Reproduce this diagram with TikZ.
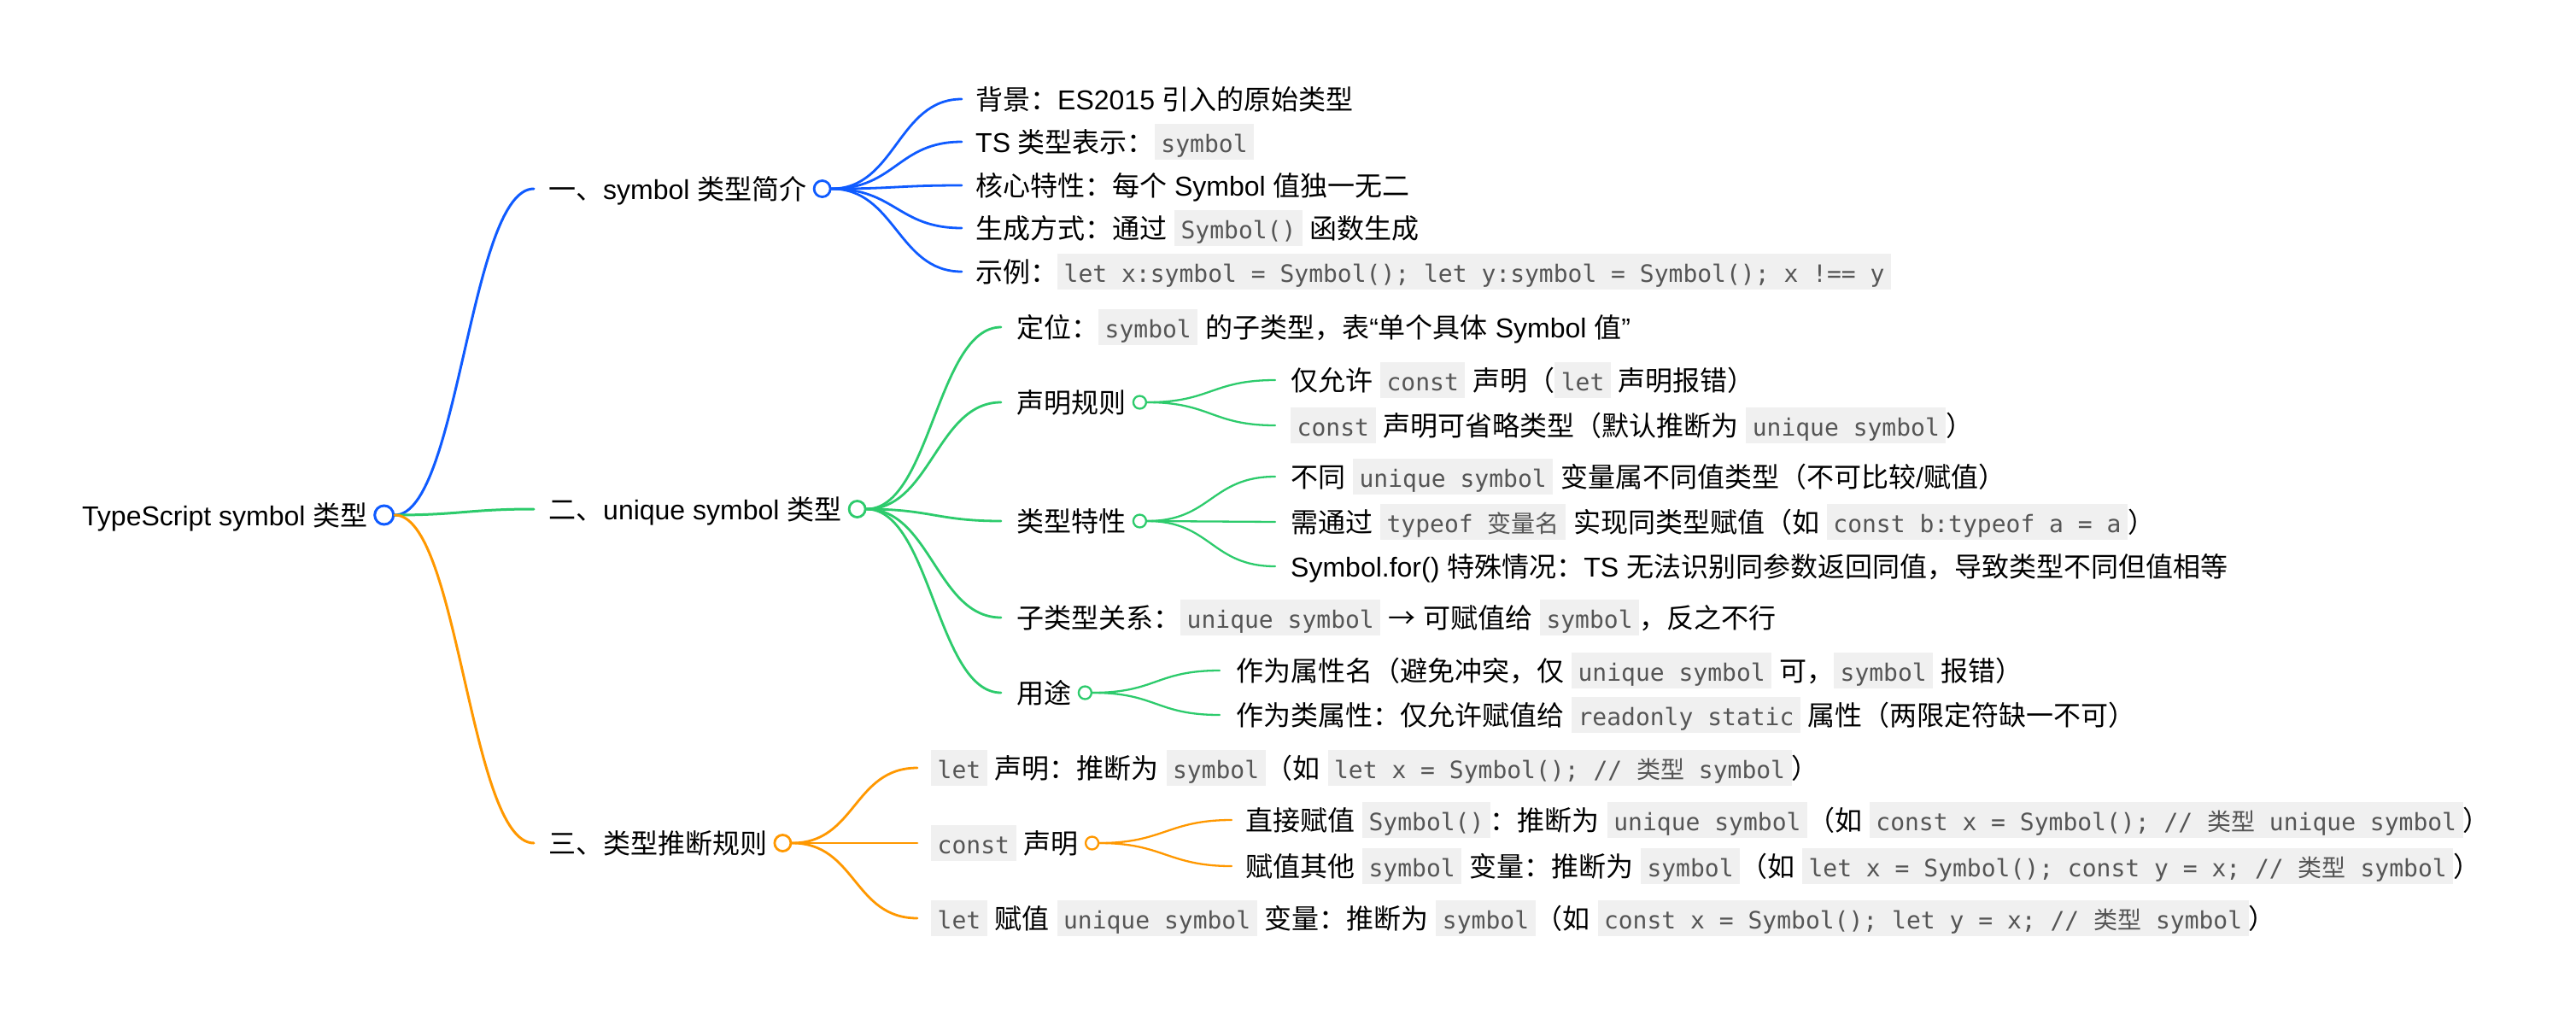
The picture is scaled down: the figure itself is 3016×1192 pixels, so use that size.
\documentclass[tikz,border=0pt]{standalone}
\usepackage{fontspec}
\setmainfont{Liberation Sans}
\setmonofont{DejaVu Sans Mono}
\newfontfamily\cjkfont{Noto Sans CJK SC}
\definecolor{cblue}{HTML}{0F5BFF}
\definecolor{cgreen}{HTML}{2DCB6C}
\definecolor{corange}{HTML}{FF9800}
\definecolor{codebg}{HTML}{F0F0F0}
\definecolor{codefg}{HTML}{555555}
% automatic CJK font switching
\chardef\cjkcls=17
\newcount\ccnt
\ccnt="3000
\loop\XeTeXcharclass\ccnt=\cjkcls\relax \advance\ccnt by 1 \ifnum\ccnt<"3040 \repeat
\ccnt="4E00
\loop\XeTeXcharclass\ccnt=\cjkcls\relax \advance\ccnt by 1 \ifnum\ccnt<"A000 \repeat
\ccnt="FF00
\loop\XeTeXcharclass\ccnt=\cjkcls\relax \advance\ccnt by 1 \ifnum\ccnt<"FFF0 \repeat
\XeTeXcharclass"2192=\cjkcls\relax
\def\curlat{\rmfamily}
\XeTeXinterchartoks 0 \cjkcls = {\cjkfont}
\XeTeXinterchartoks 4095 \cjkcls = {\cjkfont}
\XeTeXinterchartoks \cjkcls 0 = {\curlat}
\XeTeXinterchartoks \cjkcls 4095 = {\curlat}
\XeTeXinterchartokenstate=1
\newcommand\mfs{\fontsize{32}{38}\selectfont\rmfamily}
\newcommand\strutm{\rule[-9pt]{0pt}{42pt}}
\newcommand\cd[1]{{\setlength\fboxsep{0pt}\colorbox{codebg}{\strutm\hspace{7.5pt}{\def\curlat{\ttfamily}\fontsize{28}{34}\selectfont\ttfamily\color{codefg}#1}\hspace{7.5pt}}}}
\tikzset{
  txt/.style={anchor=west, inner sep=0pt, font=\mfs, execute at begin node=\strutm},
  circ/.style={circle, draw, fill=white, inner sep=0pt},
  lnk/.style={line cap=round, out=0, in=180, out distance=75pt, in distance=75pt},
  c0/.style={circ, minimum size=22pt, line width=3pt},
  c1/.style={circ, minimum size=19pt, line width=2.8pt},
  c2/.style={circ, minimum size=15pt, line width=2.3pt},
}
\begin{document}
\begin{tikzpicture}[x=1pt,y=-1pt]
\fill[white] (0,0) rectangle (3016,1192);
\useasboundingbox (0,0) rectangle (3016,1192);
% root
\node[txt] (r) at (96,603) {TypeScript symbol 类型};
\node[c0, draw=cblue] (rc) at ([xshift=19pt]r.east) {};
% level 1
\node[txt] (a) at (642,221) {一、symbol 类型简介};
\node[c1, draw=cblue] (ac) at ([xshift=18pt]a.east) {};
\node[txt] (b) at (642,596) {二、unique symbol 类型};
\node[c1, draw=cgreen] (bc) at ([xshift=18pt]b.east) {};
\node[txt] (c) at (642,987) {三、类型推断规则};
\node[c1, draw=corange] (cc) at ([xshift=18pt]c.east) {};
% blue children
\node[txt] (a1) at (1142,116) {背景：ES2015 引入的原始类型};
\node[txt] (a2) at (1142,166) {TS 类型表示：\cd{symbol}};
\node[txt] (a3) at (1142,217) {核心特性：每个 Symbol 值独一无二};
\node[txt] (a4) at (1142,267) {生成方式：通过 \cd{Symbol()} 函数生成};
\node[txt] (a5) at (1142,318) {示例：\cd{let x:symbol = Symbol(); let y:symbol = Symbol(); x !== y}};
% green children
\node[txt] (b1) at (1190,383) {定位：\cd{symbol} 的子类型，表“单个具体 Symbol 值”};
\node[txt] (b2) at (1190,471) {声明规则};
\node[c2, draw=cgreen] (b2c) at ([xshift=16pt]b2.east) {};
\node[txt] (b21) at (1511,445) {仅允许 \cd{const} 声明（\cd{let} 声明报错）};
\node[txt] (b22) at (1511,498) {\cd{const} 声明可省略类型（默认推断为 \cd{unique symbol}）};
\node[txt] (b3) at (1190,610) {类型特性};
\node[c2, draw=cgreen] (b3c) at ([xshift=16pt]b3.east) {};
\node[txt] (b31) at (1511,558) {不同 \cd{unique symbol} 变量属不同值类型（不可比较/赋值）};
\node[txt] (b32) at (1511,611) {需通过 \cd{typeof 变量名} 实现同类型赋值（如 \cd{const b:typeof a = a}）};
\node[txt] (b33) at (1511,663) {Symbol.for() 特殊情况：TS 无法识别同参数返回同值，导致类型不同但值相等};
\node[txt] (b4) at (1190,723) {子类型关系：\cd{unique symbol} → 可赋值给 \cd{symbol}，反之不行};
\node[txt] (b5) at (1190,811) {用途};
\node[c2, draw=cgreen] (b5c) at ([xshift=16pt]b5.east) {};
\node[txt] (b51) at (1447,785) {作为属性名（避免冲突，仅 \cd{unique symbol} 可，\cd{symbol} 报错）};
\node[txt] (b52) at (1447,837) {作为类属性：仅允许赋值给 \cd{readonly static} 属性（两限定符缺一不可）};
% orange children
\node[txt] (c1) at (1090,899) {\cd{let} 声明：推断为 \cd{symbol}（如 \cd{let x = Symbol(); // 类型 symbol}）};
\node[txt] (c2) at (1090,987) {\cd{const} 声明};
\node[c2, draw=corange] (c2c) at ([xshift=16pt]c2.east) {};
\node[txt] (c21) at (1458,960) {直接赋值 \cd{Symbol()}：推断为 \cd{unique symbol}（如 \cd{const x = Symbol(); // 类型 unique symbol}）};
\node[txt] (c22) at (1458,1014) {赋值其他 \cd{symbol} 变量：推断为 \cd{symbol}（如 \cd{let x = Symbol(); const y = x; // 类型 symbol}）};
\node[txt] (c3) at (1090,1075) {\cd{let} 赋值 \cd{unique symbol} 变量：推断为 \cd{symbol}（如 \cd{const x = Symbol(); let y = x; // 类型 symbol}）};
% links level 1
\draw[lnk, cblue, line width=3pt] (rc.east) to ([xshift=-17pt]a.west);
\draw[lnk, cgreen, line width=3pt] (rc.east) to ([xshift=-17pt]b.west);
\draw[lnk, corange, line width=3pt] (rc.east) to ([xshift=-17pt]c.west);
% links level 2
\foreach \n in {a1,a2,a3,a4,a5}
  \draw[lnk, cblue, line width=2.8pt] (ac.east) to ([xshift=-16pt]\n.west);
\foreach \n in {b1,b2,b3,b4,b5}
  \draw[lnk, cgreen, line width=2.8pt] (bc.east) to ([xshift=-18pt]\n.west);
\foreach \n in {c1,c2,c3}
  \draw[lnk, corange, line width=2.8pt] (cc.east) to ([xshift=-16pt]\n.west);
% links level 3
\foreach \n in {b21,b22}
  \draw[lnk, cgreen, line width=2.3pt] (b2c.east) to ([xshift=-18pt]\n.west);
\foreach \n in {b31,b32,b33}
  \draw[lnk, cgreen, line width=2.3pt] (b3c.east) to ([xshift=-18pt]\n.west);
\foreach \n in {b51,b52}
  \draw[lnk, cgreen, line width=2.3pt] (b5c.east) to ([xshift=-19pt]\n.west);
\foreach \n in {c21,c22}
  \draw[lnk, corange, line width=2.3pt] (c2c.east) to ([xshift=-16pt]\n.west);
\end{tikzpicture}
\end{document}
